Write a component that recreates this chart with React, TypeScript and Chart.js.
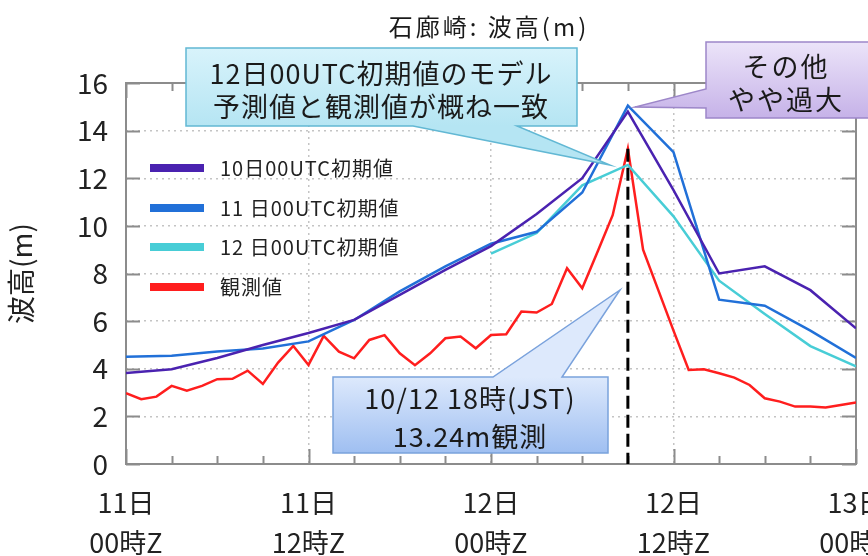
import React, { useEffect, useRef } from 'react';
import { Chart, registerables } from 'chart.js';

Chart.register(...registerables);

const FONT = '"Noto Sans CJK JP", "Noto Sans", sans-serif';

// ---- data ----
const titleText = '石廊崎: 波高(m)';
const yAxisTitle = '波高(m)';
const xTickLabels: string[][] = [
  ['11日', '00時Z'],
  ['11日', '12時Z'],
  ['12日', '00時Z'],
  ['12日', '12時Z'],
  ['13日', '00時Z'],
];
const seriesLabels = ['10日00UTC初期値', '11 日00UTC初期値', '12 日00UTC初期値', '観測値'];

// model forecast times (hours since 11日00Z)
const modelHours = [0, 3, 6, 9, 12, 15, 18, 21, 24, 27, 30, 33, 36, 39, 42, 45, 48];
const init10 = [3.82, 3.98, 4.45, 5.0, 5.5, 6.05, 7.1, 8.15, 9.15, 10.5, 12.0, 14.8, 11.5, 8.0, 8.3, 7.3, 5.7];
const init11 = [4.5, 4.55, 4.72, 4.85, 5.15, 6.05, 7.25, 8.3, 9.25, 9.75, 11.4, 15.05, 13.1, 6.9, 6.65, 5.6, 4.45];
const init12 = [null, null, null, null, null, null, null, null, 8.83, 9.7, 11.7, 12.56, 10.4, 7.7, 6.3, 4.95, 4.1];

// hourly observations starting at 11日00Z
const obsStartHour = 0;
const obsStepHours = 1;
const observed = [
  2.97, 2.72, 2.83, 3.28, 3.08, 3.28, 3.56, 3.58, 3.92, 3.36,
  4.26, 4.96, 4.16, 5.38, 4.72, 4.44, 5.21, 5.41, 4.65, 4.15,
  4.65, 5.28, 5.35, 4.86, 5.42, 5.45, 6.4, 6.36, 6.72, 8.22,
  7.38, 8.9, 10.45, 13.24, 9.0, 7.3, 5.6, 3.95, 3.98, 3.81,
  3.63, 3.32, 2.76, 2.62, 2.41, 2.41, 2.37, 2.48, 2.58,
];
const peakHour = 33;
const peakValue = 13.24;

const calloutModel = ['12日00UTC初期値のモデル', '予測値と観測値が概ね一致'];
const calloutOther = ['その他', 'やや過大'];
const calloutObs = ['10/12 18時(JST)', '13.24m観測'];

const colors = ['#4a22b0', '#2170d8', '#48cdd6', '#ff1e1e'];

function pathPoly(ctx: CanvasRenderingContext2D, pts: number[][]) {
  ctx.beginPath();
  ctx.moveTo(pts[0][0], pts[0][1]);
  for (let i = 1; i < pts.length; i++) ctx.lineTo(pts[i][0], pts[i][1]);
  ctx.closePath();
}

function drawCallout(
  ctx: CanvasRenderingContext2D,
  pts: number[][],
  y0: number,
  y1: number,
  cTop: string,
  cBottom: string,
  stroke: string,
  lines: string[],
  cx: number,
  lineYs: number[],
  size: number,
  spacing: string
) {
  ctx.save();
  const g = ctx.createLinearGradient(0, y0, 0, y1);
  g.addColorStop(0, cTop);
  g.addColorStop(1, cBottom);
  pathPoly(ctx, pts);
  ctx.fillStyle = g;
  ctx.fill();
  ctx.lineWidth = 1.5;
  ctx.strokeStyle = stroke;
  ctx.stroke();
  ctx.fillStyle = '#1a1a1a';
  ctx.font = `${size}px ${FONT}`;
  (ctx as any).letterSpacing = spacing;
  ctx.textAlign = 'center';
  ctx.textBaseline = 'middle';
  lines.forEach((t, i) => ctx.fillText(t, cx, lineYs[i]));
  ctx.restore();
}

const decorPlugin = {
  id: 'decor',
  beforeDatasetsDraw(chart: any) {
    const ctx: CanvasRenderingContext2D = chart.ctx;
    const { left, right, top, bottom } = chart.chartArea;
    const xs = chart.scales.x;
    const ys = chart.scales.y;
    ctx.save();
    ctx.strokeStyle = '#8c8c8c';
    ctx.lineWidth = 2;
    ctx.setLineDash([]);
    ctx.beginPath();
    for (let v = 0; v <= 16; v += 2) {
      const py = Math.round(ys.getPixelForValue(v)) + 0.5;
      ctx.moveTo(left, py);
      ctx.lineTo(left + 14, py);
      ctx.moveTo(right - 14, py);
      ctx.lineTo(right, py);
    }
    for (let h = 0; h <= 48; h += 3) {
      const px = Math.round(xs.getPixelForValue(h)) + 0.5;
      const len = h % 12 === 0 ? 15 : 8;
      ctx.moveTo(px, bottom);
      ctx.lineTo(px, bottom - len);
      ctx.moveTo(px, top);
      ctx.lineTo(px, top + len);
    }
    ctx.stroke();
    ctx.strokeRect(left, top, right - left, bottom - top);
    ctx.restore();
  },
  afterDatasetsDraw(chart: any) {
    const ctx: CanvasRenderingContext2D = chart.ctx;
    const xs = chart.scales.x;
    const ys = chart.scales.y;
    const { left, right } = chart.chartArea;

    // dashed marker at observed peak
    ctx.save();
    ctx.strokeStyle = '#000';
    ctx.lineWidth = 3;
    ctx.setLineDash([13, 6]);
    const px = xs.getPixelForValue(peakHour);
    ctx.beginPath();
    ctx.moveTo(px, ys.getPixelForValue(peakValue));
    ctx.lineTo(px, ys.getPixelForValue(0));
    ctx.stroke();
    ctx.restore();

    // legend
    ctx.save();
    const rowY = [168, 208, 247, 287];
    chart.data.datasets.forEach((ds: any, i: number) => {
      ctx.fillStyle = ds.borderColor;
      ctx.fillRect(left + 24, rowY[i] - 4, 54, 8);
      ctx.fillStyle = '#222';
      ctx.font = `20px ${FONT}`;
      (ctx as any).letterSpacing = '1px';
      ctx.textAlign = 'left';
      ctx.textBaseline = 'middle';
      ctx.fillText(ds.label, left + 94, rowY[i]);
    });
    ctx.restore();

    // title
    ctx.save();
    ctx.fillStyle = '#1a1a1a';
    ctx.font = `24px ${FONT}`;
    (ctx as any).letterSpacing = '3px';
    ctx.textAlign = 'center';
    ctx.textBaseline = 'middle';
    ctx.fillText(titleText, (left + right) / 2 - 2, 27);
    ctx.restore();

    // callouts
    drawCallout(
      ctx,
      [[186, 48], [577, 48], [577, 126], [517, 126], [610, 165], [413, 126], [186, 126]],
      48, 126, '#d8f3fb', '#b5e5f3', '#62b8d4',
      calloutModel, 381, [74, 107], 27, '1px'
    );
    drawCallout(
      ctx,
      [[706, 42], [880, 42], [880, 118], [706, 118], [706, 108], [635, 107], [706, 89]],
      42, 118, '#ece4f9', '#c6b2e8', '#9d87c9',
      calloutOther, 786, [67, 100], 27, '2px'
    );
    drawCallout(
      ctx,
      [[333, 377], [493, 377], [620, 290], [562, 377], [608, 377], [608, 453], [333, 453]],
      377, 453, '#dde9fc', '#9fbff1', '#7aa2dc',
      calloutObs, 470, [399, 437], 27, '1px'
    );
  },
};

export default function App() {
  const ref = useRef<HTMLCanvasElement | null>(null);

  useEffect(() => {
    if (!ref.current) return;
    const mk = (hours: number[], vals: (number | null)[]) =>
      hours.map((h, i) => ({ x: h, y: vals[i] }));
    const obsData = observed.map((v, i) => ({ x: obsStartHour + i * obsStepHours, y: v }));

    const lineDs = (label: string, data: any[], color: string) => ({
      label,
      data,
      borderColor: color,
      backgroundColor: color,
      borderWidth: 2.5,
      pointRadius: 0,
      tension: 0,
      spanGaps: false,
      fill: false,
    });

    const chart = new Chart(ref.current, {
      type: 'line',
      data: {
        datasets: [
          lineDs(seriesLabels[0], mk(modelHours, init10), colors[0]),
          lineDs(seriesLabels[1], mk(modelHours, init11), colors[1]),
          lineDs(seriesLabels[2], mk(modelHours, init12), colors[2]),
          lineDs(seriesLabels[3], obsData, colors[3]),
        ],
      },
      options: {
        animation: false,
        responsive: false,
        devicePixelRatio: 1,
        layout: { padding: { top: 83, right: 12, left: 0, bottom: 0 } },
        plugins: {
          legend: { display: false },
          title: { display: false },
          tooltip: { enabled: false },
        },
        scales: {
          x: {
            type: 'linear',
            min: 0,
            max: 48,
            afterFit: (s: any) => {
              s.height = 92;
              s.paddingLeft = 0;
              s.paddingRight = 0;
            },
            ticks: {
              stepSize: 12,
              autoSkip: false,
              maxRotation: 0,
              padding: 18,
              color: '#222',
              font: { family: FONT, size: 27, lineHeight: 1.5 },
              callback: (v: any) => xTickLabels[Math.round(Number(v) / 12)],
            },
            grid: {
              drawTicks: false,
              lineWidth: 1.5,
              color: (c: any) =>
                c.tick && (c.tick.value === 0 || c.tick.value === 48) ? 'rgba(0,0,0,0)' : '#c4c4c4',
            },
            border: { display: false, dash: [2, 4] },
          },
          y: {
            min: 0,
            max: 16,
            afterFit: (s: any) => {
              s.width = 126;
              s.paddingTop = 0;
              s.paddingBottom = 0;
            },
            ticks: {
              stepSize: 2,
              padding: 18,
              color: '#222',
              font: { family: FONT, size: 28 },
            },
            title: {
              display: true,
              text: yAxisTitle,
              color: '#222',
              font: { family: FONT, size: 28 },
              padding: { top: 5, bottom: 0 },
            },
            grid: {
              drawTicks: false,
              lineWidth: 1.5,
              color: (c: any) =>
                c.tick && (c.tick.value === 0 || c.tick.value === 16) ? 'rgba(0,0,0,0)' : '#c4c4c4',
            },
            border: { display: false, dash: [2, 4] },
          },
        },
      },
      plugins: [decorPlugin],
    } as any);

    return () => chart.destroy();
  }, []);

  return (
    <div
      style={{
        position: 'fixed',
        left: 0,
        top: 0,
        width: 868,
        height: 556,
        background: '#ffffff',
        overflow: 'hidden',
      }}
    >
      <canvas ref={ref} width={868} height={556} style={{ display: 'block' }} />
    </div>
  );
}
